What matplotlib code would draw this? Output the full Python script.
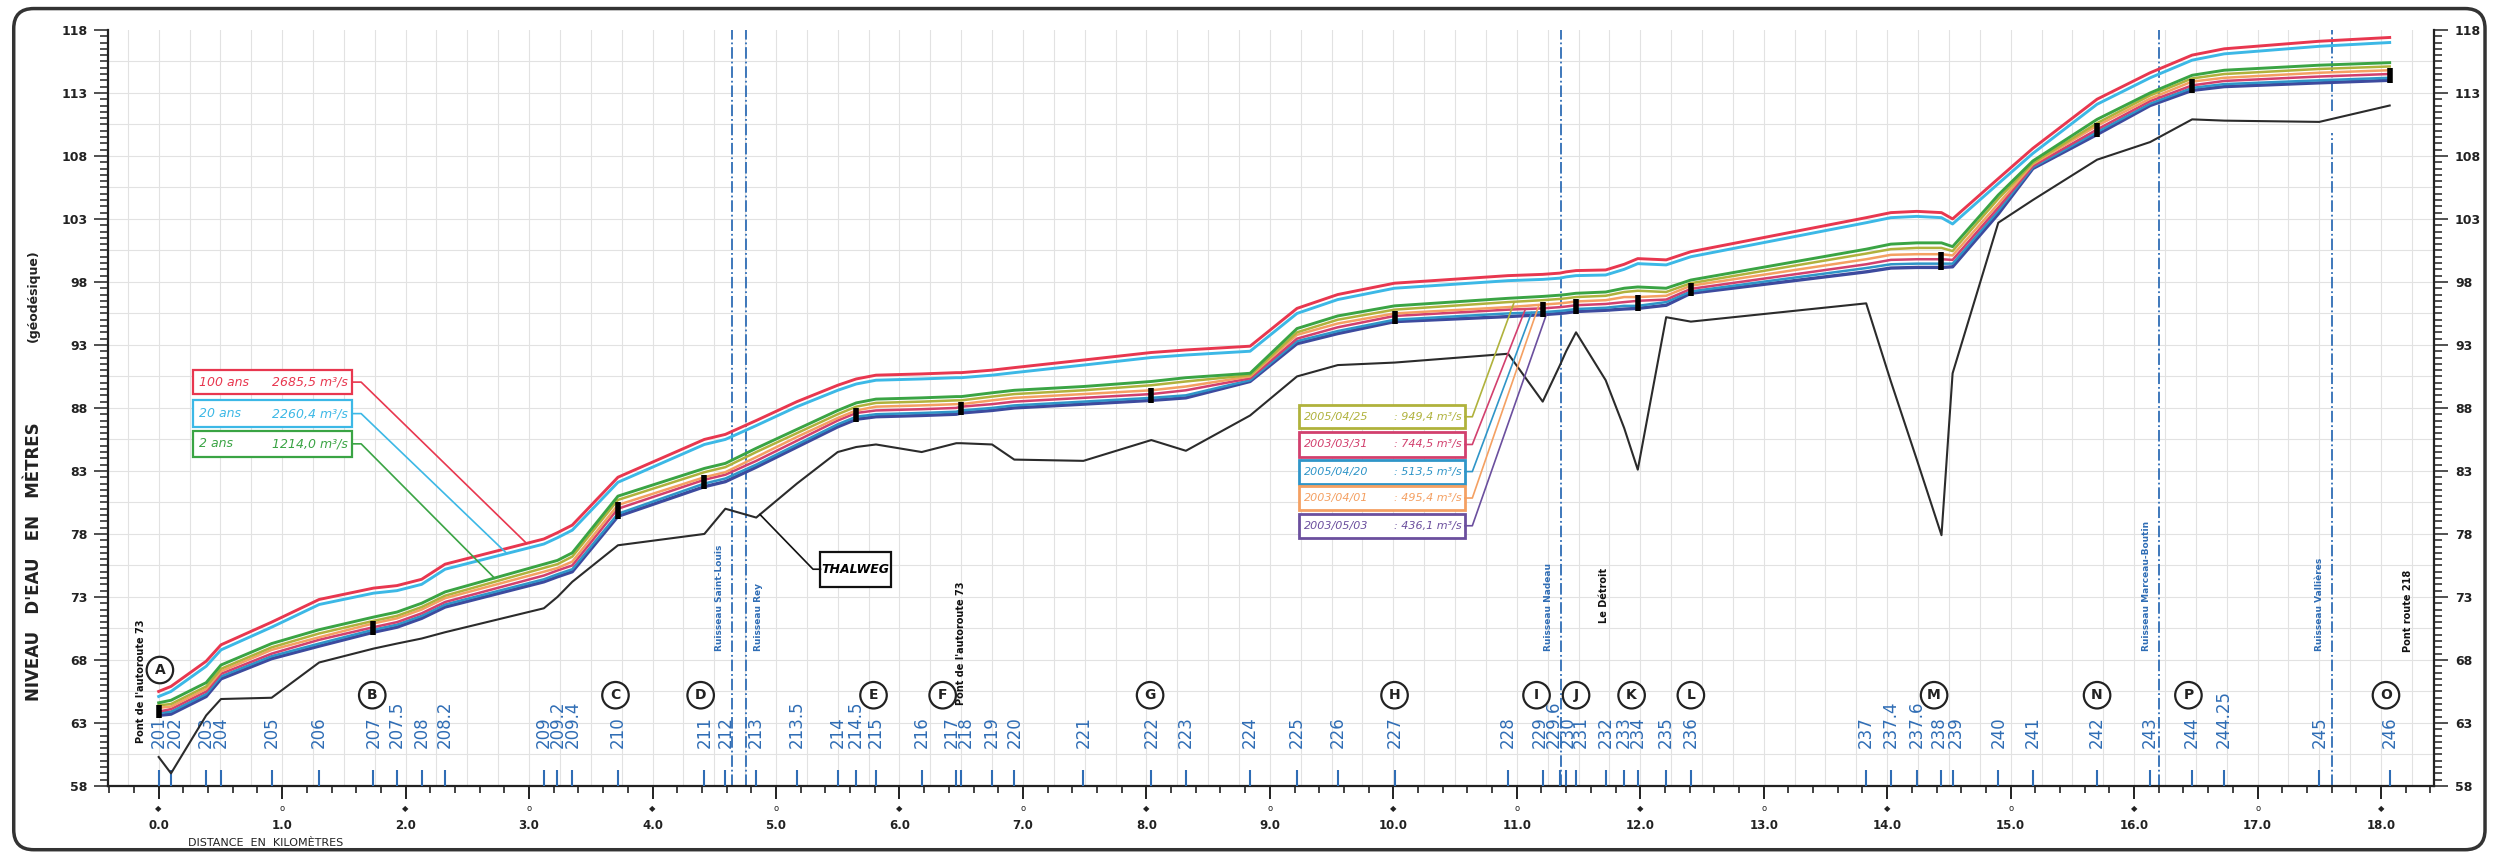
import numpy as np
import matplotlib.pyplot as plt
from matplotlib.patches import FancyBboxPatch, Rectangle
from matplotlib.transforms import blended_transform_factory

# sections en travers : distance (km) et numero
km = [0.00, 0.10, 0.385, 0.505, 0.915, 1.30, 1.74, 1.93, 2.13, 2.32,
      3.12, 3.23, 3.35, 3.72, 4.42, 4.59, 4.84, 5.17, 5.50, 5.65,
      5.81, 6.18, 6.46, 6.50, 6.75, 6.93, 7.49, 8.04, 8.32, 8.84,
      9.22, 9.55, 10.01, 10.93, 11.21, 11.35, 11.40, 11.48, 11.72, 11.87,
      11.98, 12.21, 12.41, 13.83, 14.03, 14.24, 14.44, 14.53, 14.90, 15.18,
      15.70, 16.13, 16.47, 16.73, 17.50, 18.07]
sections = ['201', '202', '203', '204', '205', '206', '207', '207.5', '208', '208.2',
            '209', '209.2', '209.4', '210', '211', '212', '213', '213.5', '214', '214.5',
            '215', '216', '217', '218', '219', '220', '221', '222', '223', '224',
            '225', '226', '227', '228', '229', '229.6', '230', '231', '232', '233',
            '234', '235', '236', '237', '237.4', '237.6', '238', '239', '240', '241',
            '242', '243', '244', '244.25', '245', '246']

# niveaux d'eau (m)
q100 = [65.5, 65.9, 67.9, 69.2, 71.0, 72.8, 73.7, 73.9, 74.4, 75.6,
        77.6, 78.1, 78.7, 82.5, 85.5, 85.9, 87.0, 88.5, 89.8, 90.3,
        90.6, 90.7, 90.8, 90.8, 91.0, 91.2, 91.8, 92.4, 92.6, 92.9,
        95.9, 97.0, 97.9, 98.5, 98.6, 98.7, 98.8, 98.9, 98.95, 99.4,
        99.85, 99.75, 100.4, 103.1, 103.5, 103.6, 103.5, 103.0, 106.2, 108.6,
        112.5, 114.6, 116.0, 116.5, 117.1, 117.4]
q20 = [65.1, 65.5, 67.5, 68.8, 70.6, 72.4, 73.3, 73.5, 74.0, 75.2,
       77.2, 77.7, 78.3, 82.1, 85.1, 85.5, 86.6, 88.1, 89.4, 89.9,
       90.2, 90.3, 90.4, 90.4, 90.6, 90.8, 91.4, 92.0, 92.2, 92.5,
       95.5, 96.6, 97.5, 98.1, 98.2, 98.3, 98.4, 98.5, 98.55, 99.0,
       99.45, 99.35, 100.0, 102.7, 103.1, 103.2, 103.1, 102.6, 105.8, 108.2,
       112.1, 114.2, 115.6, 116.1, 116.7, 117.0]
q2 = [64.6, 64.8, 66.2, 67.6, 69.3, 70.4, 71.4, 71.8, 72.5, 73.4,
      75.6, 75.9, 76.5, 81.0, 83.2, 83.6, 84.8, 86.3, 87.8, 88.4,
      88.7, 88.8, 88.9, 88.9, 89.2, 89.4, 89.7, 90.1, 90.4, 90.75,
      94.3, 95.3, 96.1, 96.7, 96.85, 96.95, 97.0, 97.1, 97.2, 97.5,
      97.6, 97.5, 98.15, 100.6, 101.0, 101.1, 101.1, 100.8, 104.9, 107.6,
      110.9, 113.0, 114.4, 114.8, 115.2, 115.4]
obs_050425 = [64.4, 64.5, 65.9, 67.3, 69.0, 70.1, 71.1, 71.5, 72.2, 73.1,
              75.3, 75.6, 76.2, 80.7, 82.9, 83.3, 84.5, 86.0, 87.5, 88.1,
              88.4, 88.5, 88.6, 88.6, 88.9, 89.1, 89.4, 89.8, 90.1, 90.6,
              94.0, 95.0, 95.8, 96.4, 96.55, 96.65, 96.7, 96.8, 96.9, 97.2,
              97.3, 97.2, 97.9, 100.25, 100.6, 100.7, 100.7, 100.45, 104.6, 107.45,
              110.6, 112.8, 114.15, 114.5, 114.9, 115.1]
obs_030401 = [64.2, 64.3, 65.7, 67.1, 68.8, 69.8, 70.9, 71.3, 72.0, 72.9,
              75.0, 75.3, 75.8, 80.3, 82.5, 82.9, 84.1, 85.7, 87.2, 87.8,
              88.1, 88.2, 88.3, 88.3, 88.6, 88.8, 89.1, 89.4, 89.7, 90.5,
              93.8, 94.7, 95.5, 96.0, 96.2, 96.3, 96.35, 96.45, 96.55, 96.8,
              96.8, 96.9, 97.7, 99.8, 100.15, 100.2, 100.2, 100.1, 104.2, 107.35,
              110.4, 112.55, 113.9, 114.2, 114.6, 114.8]
obs_030331 = [63.9, 64.1, 65.5, 66.9, 68.5, 69.6, 70.6, 71.0, 71.7, 72.6,
              74.7, 75.1, 75.5, 80.0, 82.3, 82.7, 83.8, 85.4, 87.0, 87.6,
              87.8, 87.9, 88.0, 88.1, 88.3, 88.5, 88.8, 89.1, 89.4, 90.35,
              93.5, 94.4, 95.3, 95.8, 95.9, 96.0, 96.05, 96.15, 96.25, 96.4,
              96.5, 96.6, 97.45, 99.4, 99.75, 99.8, 99.8, 99.75, 103.9, 107.2,
              110.1, 112.35, 113.6, 113.95, 114.3, 114.5]
obs_050420 = [63.8, 63.9, 65.3, 66.7, 68.3, 69.3, 70.4, 70.8, 71.5, 72.4,
              74.4, 74.8, 75.2, 79.6, 82.0, 82.4, 83.5, 85.1, 86.7, 87.3,
              87.5, 87.6, 87.7, 87.8, 88.0, 88.2, 88.5, 88.8, 89.0, 90.2,
              93.3, 94.1, 95.0, 95.5, 95.6, 95.7, 95.75, 95.85, 95.95, 96.1,
              96.1, 96.4, 97.25, 99.1, 99.4, 99.45, 99.45, 99.45, 103.65, 107.1,
              109.9, 112.15, 113.4, 113.7, 114.0, 114.2]
obs_030503 = [63.6, 63.7, 65.1, 66.5, 68.1, 69.1, 70.2, 70.6, 71.3, 72.2,
              74.2, 74.6, 75.0, 79.4, 81.75, 82.15, 83.3, 84.9, 86.5, 87.1,
              87.3, 87.4, 87.5, 87.6, 87.8, 88.0, 88.3, 88.6, 88.8, 90.1,
              93.1, 93.9, 94.85, 95.25, 95.4, 95.5, 95.55, 95.65, 95.75, 95.85,
              95.9, 96.15, 97.1, 98.8, 99.1, 99.15, 99.15, 99.2, 103.4, 107.0,
              109.7, 112.0, 113.2, 113.5, 113.8, 114.0]
thalweg = [60.3, 59.0, 63.6, 64.9, 65.0, 67.8, 68.9, 69.3, 69.7, 70.2,
           72.1, 73.0, 74.2, 77.1, 78.0, 80.0, 79.3, 82.0, 84.5, 84.9,
           85.1, 84.5, 85.2, 85.2, 85.1, 83.9, 83.8, 85.45, 84.6, 87.4,
           90.5, 91.4, 91.6, 92.3, 88.5, 91.4, 92.5, 94.0, 90.2, 86.4,
           83.1, 95.2, 94.85, 96.3, 90.1, 83.9, 77.9, 90.75, 102.7, 104.5,
           107.7, 109.1, 110.9, 110.8, 110.7, 112.0]

# reperes de niveau mesures
reperes = ['201', '207', '210', '211', '214.5', '218', '222', '227', '229',
           '231', '234', '236', '238', '242', '244', '246']

# ruisseaux
ruis_km = [4.64, 4.755, 11.36, 16.20, 17.60]
ruis_nom = ['Ruisseau Saint-Louis', 'Ruisseau Rey', 'Ruisseau Nadeau',
            'Ruisseau Marceau-Boutin', 'Ruisseau Vallières']

# points singuliers (lettres cerclees)
lettres = ['A', 'B', 'C', 'D', 'E', 'F', 'G', 'H', 'I', 'J', 'K', 'L', 'M', 'N', 'P', 'O']
lettres_km = [0.01, 1.73, 3.70, 4.39, 5.79, 6.35, 8.03, 10.01, 11.16, 11.48,
              11.93, 12.41, 14.38, 15.70, 16.44, 18.04]

# legendes
crues = [('100 ans', '2685,5 m³/s'), ('20 ans', '2260,4 m³/s'), ('2 ans', '1214,0 m³/s')]
releves = [('2005/04/25', '949,4 m³/s'), ('2003/03/31', '744,5 m³/s'),
           ('2005/04/20', '513,5 m³/s'), ('2003/04/01', '495,4 m³/s'),
           ('2003/05/03', '436,1 m³/s')]

# petits decalages des numeros trop serres
decal = {'202': 0.03, '217': -0.04, '218': 0.04, '229': -0.02,
         '229.6': -0.05, '230': 0.01, '231': 0.04, '238': -0.025, '239': 0.025}

BLUE = '#2f6db5'
c100, c20, c2 = '#e8374f', '#3cb8e6', '#3aa444'
c_ol, c_or, c_cr, c_te, c_pu = '#b0b23c', '#f4a062', '#d2406e', '#2f95c8', '#3d4a9e'

fig = plt.figure(figsize=(24.95, 8.57), dpi=100)
fig.patch.set_facecolor('white')
ax = fig.add_axes([0.0433, 0.0829, 0.9323, 0.8822])
ax.set_xlim(-0.41, 18.43)
ax.set_ylim(58, 118)

# papier quadrille
for gx in np.arange(-0.25, 18.43, 0.25):
    ax.axvline(gx, color='#e2e2e2', lw=0.8, zorder=0)
for gy in np.arange(60.5, 118, 2.5):
    ax.axhline(gy, color='#e2e2e2', lw=0.8, zorder=0)

for s in ['left', 'right', 'bottom']:
    ax.spines[s].set_linewidth(1.6)
    ax.spines[s].set_color('#222222')
ax.spines['top'].set_visible(False)

ax.set_yticks(np.arange(58, 119, 5))
ax.set_yticks(np.arange(58, 118.1, 0.5), minor=True)
ax.tick_params(axis='y', which='both', left=True, right=True, labelleft=True,
               labelright=True, direction='out', width=1.1, colors='#222222')
ax.tick_params(axis='y', which='major', length=10, labelsize=9, pad=5)
ax.tick_params(axis='y', which='minor', length=6)
for t in ax.yaxis.get_major_ticks():
    t.label1.set_fontweight('bold')
    t.label2.set_fontweight('bold')

ax.set_xticks(np.arange(0, 19, 1))
ax.set_xticks(np.arange(-0.4, 18.41, 0.2), minor=True)
ax.tick_params(axis='x', which='major', length=9, width=1.4, direction='out',
               labelbottom=False, colors='#222222')
ax.tick_params(axis='x', which='minor', length=5, width=1.2, direction='out', colors='#222222')
trans = blended_transform_factory(ax.transData, ax.transAxes)
for k in range(19):
    sym = '◆' if k % 2 == 0 else 'o'
    ax.text(k, -0.030, sym, transform=trans, ha='center', va='center', fontsize=6,
            color='#222222', clip_on=False)
    ax.text(k, -0.052, f'{k}.0', transform=trans, ha='center', va='center',
            fontsize=8.5, fontweight='bold', color='#222222', clip_on=False)

# ruisseaux
for x, nom in zip(ruis_km, ruis_nom):
    if nom == 'Ruisseau Vallières':
        ax.plot([x, x], [58, 109.8], color=BLUE, lw=1.3, ls='-.', zorder=2)
        ax.plot([x, x], [111.6, 118], color=BLUE, lw=1.3, ls='-.', zorder=2)
    else:
        ax.axvline(x, color=BLUE, lw=1.3, ls='-.', zorder=2)
    dx = 0.1 if nom == 'Ruisseau Rey' else -0.1
    ax.text(x + dx, 68.7, nom, rotation=90, ha='center', va='bottom', color=BLUE,
            fontsize=6.5, fontweight='bold')

# ouvrages
for txt, x, y in [("Pont de l'autoroute 73", -0.14, 61.4), ("Pont de l'autoroute 73", 6.50, 64.4),
                  ('Le Détroit', 11.71, 70.9), ('Pont route 218', 18.22, 68.6)]:
    ax.text(x, y, txt, rotation=90, ha='center', va='bottom', color='#111111',
            fontsize=7, fontweight='bold')

# sections
ax.vlines(km, 58, 59.3, color=BLUE, lw=1.5, zorder=3)
for x, lab in zip(km, sections):
    ax.text(x + decal.get(lab, 0.0), 61.0, lab, rotation=90, ha='center', va='bottom',
            color=BLUE, fontsize=12)

for x, let in zip(lettres_km, lettres):
    y = 67.2 if let == 'A' else 65.2
    ax.text(x, y, let, ha='center', va='center', fontsize=10, fontweight='bold', color='#222222',
            bbox=dict(boxstyle='circle,pad=0.45', fc='white', ec='#222222', lw=1.6), zorder=5)

# profils
ax.plot(km, thalweg, color='#2b2b2b', lw=1.5, zorder=3)
series = [(obs_030503, c_pu, 2.4), (obs_050420, c_te, 1.8), (obs_030331, c_cr, 1.8),
          (obs_030401, c_or, 1.8), (obs_050425, c_ol, 1.8), (q2, c2, 2.1),
          (q20, c20, 2.1), (q100, c100, 2.1)]
for vals, col, lw in series:
    ax.plot(km, vals, color=col, lw=lw, zorder=4)

for r in reperes:
    i = sections.index(r)
    ax.vlines(km[i], obs_030503[i] - 0.2, obs_030401[i] + 0.2, color='black', lw=4, zorder=6)

# legende crues
rows1 = [(89.1, 91.0), (86.5, 88.6), (84.1, 86.2)]
ends1 = [(q100, 2.98), (q20, 2.82), (q2, 2.72)]
for (nom, debit), (y0, y1), col, (vals, xe) in zip(crues, rows1, [c100, c20, c2], ends1):
    ax.add_patch(Rectangle((0.28, y0), 1.29, y1 - y0, fill=True, fc='white', ec=col, lw=1.6, zorder=5))
    ym = (y0 + y1) / 2
    ax.text(0.33, ym, nom, color=col, fontsize=9, style='italic', va='center', zorder=6)
    ax.text(1.53, ym, debit, color=col, fontsize=9, style='italic', va='center', ha='right', zorder=6)
    ye = np.interp(xe, km, vals)
    ax.plot([1.57, 1.64, xe], [ym, ym, ye], color=col, lw=1.2, zorder=5)

# legende releves
rows2 = [(86.4, 88.2), (84.1, 86.1), (82.0, 83.9), (79.9, 81.8), (77.7, 79.6)]
cols2 = [c_ol, c_cr, c_te, c_or, '#6b4f9e']
ends2 = [(obs_050425, 10.98), (obs_030331, 11.07), (obs_050420, 11.12),
         (obs_030401, 11.18), (obs_030503, 11.24)]
for (date, debit), (y0, y1), col, (vals, xe) in zip(releves, rows2, cols2, ends2):
    ax.add_patch(Rectangle((9.24, y0), 1.34, y1 - y0, fill=True, fc='white', ec=col, lw=2, zorder=5))
    ym = (y0 + y1) / 2
    ax.text(9.28, ym, date, color=col, fontsize=8, style='italic', va='center', zorder=6)
    ax.text(10.55, ym, ': ' + debit, color=col, fontsize=8, style='italic', va='center',
            ha='right', zorder=6)
    ye = np.interp(xe, km, vals)
    ax.plot([10.58, 10.64, xe], [ym, ym, ye], color=col, lw=1.2, zorder=5)

# thalweg
ax.add_patch(Rectangle((5.36, 73.8), 0.57, 2.8, fc='white', ec='#111111', lw=1.6, zorder=5))
ax.text(5.645, 75.2, 'THALWEG', fontsize=9, fontweight='bold', style='italic', ha='center',
        va='center', zorder=6)
ax.plot([5.36, 5.30, 4.87], [75.2, 75.2, np.interp(4.87, km, thalweg)], color='#111111', lw=1.2, zorder=5)

fig.text(0.0135, 0.345, "NIVEAU   D'EAU   EN   MÈTRES", rotation=90, ha='center', va='center',
         fontsize=12, fontweight='bold', color='#222222')
fig.text(0.0135, 0.655, '(géodésique)', rotation=90, ha='center', va='center',
         fontsize=9, fontweight='bold', color='#222222')
fig.text(0.0754, 0.016, 'DISTANCE  EN  KILOMÈTRES', ha='left', va='center', fontsize=8,
         color='#222222')

fig.patches.append(FancyBboxPatch((0.0055, 0.0085), 0.9905, 0.9815,
                                  boxstyle='round,pad=0,rounding_size=0.008',
                                  mutation_aspect=2495 / 857, transform=fig.transFigure,
                                  fill=False, lw=2.5, ec='#333333'))

fig.savefig('out.png', dpi=100)
